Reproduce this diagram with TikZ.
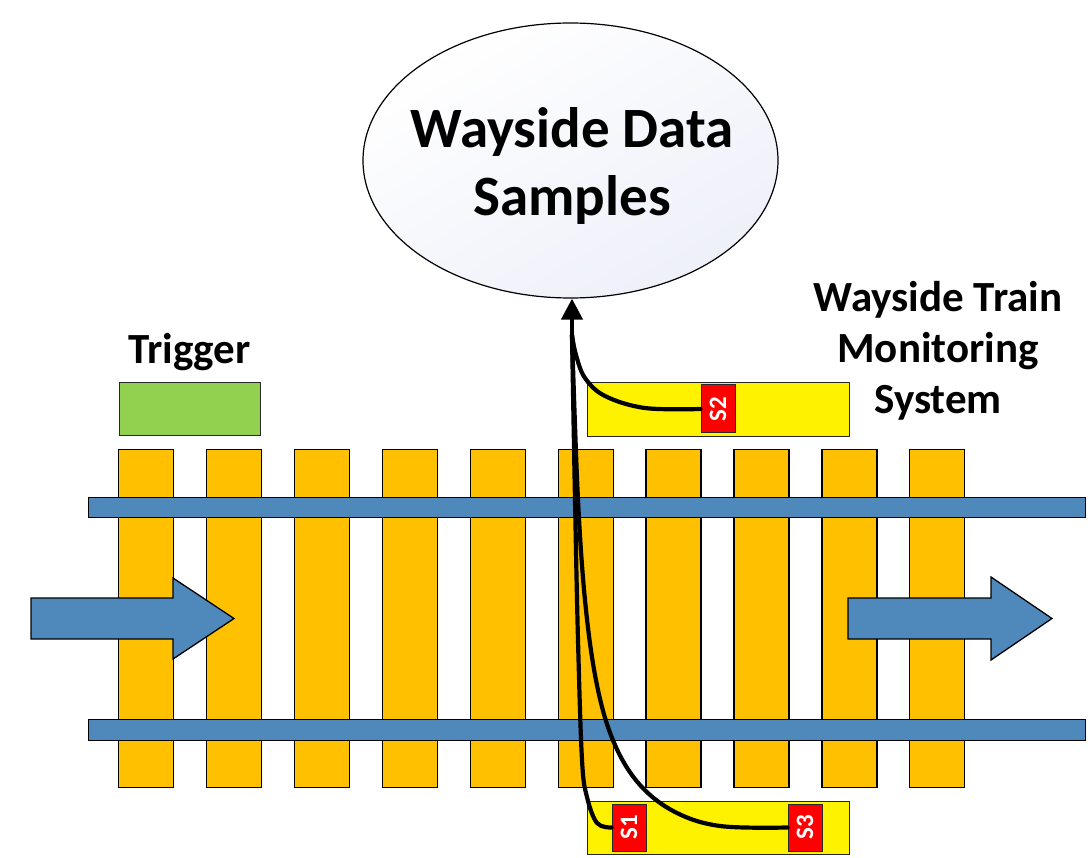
\documentclass[tikz,border=0pt]{standalone}
\usepackage{fontspec}
\setmainfont{Carlito}
\usetikzlibrary{shapes.geometric,arrows.meta}
\definecolor{tieorange}{HTML}{FFC000}
\definecolor{railblue}{RGB}{79,136,187}
\definecolor{trigreen}{HTML}{92D050}
\definecolor{ellfill}{RGB}{238,240,249}
\definecolor{boxedge}{RGB}{40,40,40}
\begin{document}
\begin{tikzpicture}[x=1pt,y=-1pt,
  tiebox/.style={draw=black, line width=1.3pt, fill=tieorange, minimum width=55pt, minimum height=338pt, inner sep=0pt, anchor=north west},
  railbox/.style={draw=black, line width=1.3pt, fill=railblue, minimum width=997pt, inner sep=0pt, anchor=north west},
  flowarrow/.style={draw=black, line width=1.3pt, fill=railblue, line join=miter},
  ybox/.style={draw=boxedge, line width=1.1pt, fill=yellow, minimum width=262pt, inner sep=0pt, anchor=north west},
  sensor/.style={draw=boxedge, line width=1pt, fill=red, text=white, minimum width=34pt, inner sep=0pt, font=\bfseries\fontsize{25}{25}\selectfont},
  wire/.style={draw=black, line width=4.2pt, line cap=round, line join=round},
  bigtext/.style={font=\bfseries\fontsize{57}{68}\selectfont, align=center, inner sep=0pt},
  lbltext/.style={font=\bfseries\fontsize{43}{51}\selectfont, align=center, inner sep=0pt}
]
\useasboundingbox (0,0) rectangle (1090,858);

% ties
\foreach \i in {0,...,9}
  \node[tiebox] (t\i) at ({118+87.9*\i},449) {};

% rails
\node[railbox, minimum height=20pt] (rail1) at (88,497) {};
\node[railbox, minimum height=21pt] (rail2) at (88,719) {};

% train direction arrows
\draw[flowarrow] (31,598) -- (173,598) -- (173,578) -- (234,618.5) -- (173,659) -- (173,639) -- (31,639) -- cycle;
\draw[flowarrow] (848,598) -- (991,598) -- (991,577) -- (1052,618.5) -- (991,660) -- (991,639) -- (848,639) -- cycle;

% trigger
\node[draw=boxedge, line width=1.1pt, fill=trigreen, minimum width=141pt, minimum height=53pt, inner sep=0pt, anchor=north west] (trig) at (119,382) {};
\node[lbltext, anchor=base] (triglbl) at (189.5,364) {Trigger};

% wayside boxes
\node[ybox, minimum height=54pt] (yb1) at (587,382) {};
\node[ybox, minimum height=53pt] (yb2) at (587,801) {};

% sensors
\node[sensor, minimum height=48pt] (S2) at (718,409) {\rotatebox{90}{S2}};
\node[sensor, minimum height=47pt] (S1) at (629,827.5) {\rotatebox{90}{S1}};
\node[sensor, minimum height=47pt] (S3) at (805,827.5) {\rotatebox{90}{S3}};

% data samples ellipse
\node[ellipse, draw=black, line width=1.2pt, top color=white, bottom color=ellfill, shading angle=30, minimum width=415pt, minimum height=275pt, inner sep=0pt] (ell) at (570.5,160.5) {};
\node[bigtext] (title) at (572,166) {Wayside Data\\Samples};

% system label
\node[lbltext] (wtms) at (938,351) {Wayside Train\\Monitoring\\System};

% wires
\coordinate (trunk) at (572,335);
\draw[wire] plot[smooth, tension=0.6] coordinates {(S1.west) (597,823) (587,797) (582,760) (578,640) (575,500) (trunk)};
\draw[wire] plot[smooth, tension=0.6] coordinates {(S3.west) (720,826) (675,812) (640,785) (615,745) (598,690) (586,610) (578,500) (trunk)};
\draw[wire] plot[smooth, tension=0.6] coordinates {(S2.west) (645,408) (605,396) (585,378) (576,355) (trunk)};
\draw[wire, -{Triangle[width=21pt,length=21pt]}] (trunk) -- (trunk |- ell.south);
\end{tikzpicture}
\end{document}
